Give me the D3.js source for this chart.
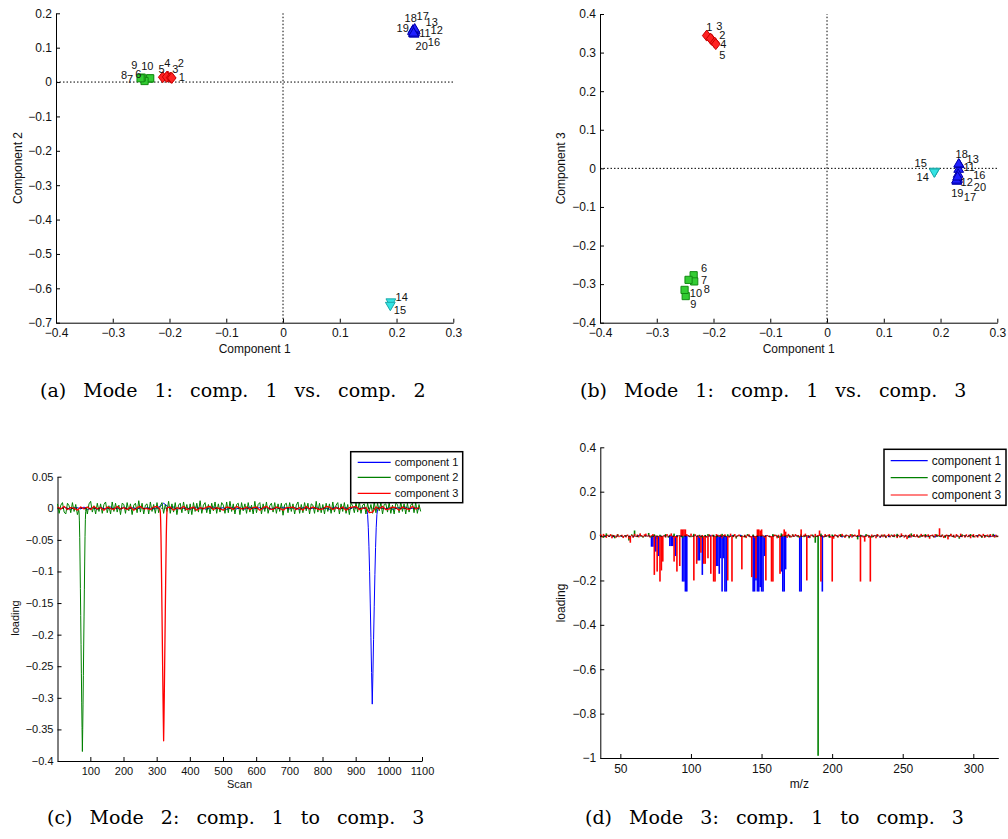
<!DOCTYPE html>
<html><head><meta charset="utf-8">
<script src="https://cdn.jsdelivr.net/npm/d3@7"></script>
<style>
body{margin:0;background:#fff}
svg{display:block}
text{font-family:"Liberation Sans",Arial,sans-serif;fill:#111}
.cap{font-family:"DejaVu Serif",serif;font-size:19px;word-spacing:11px;fill:#000}
</style>
</head><body>
<svg id="fig" width="1008" height="839"></svg>
<script>
// ---------------- DATA ----------------
// Mode 1 scores (samples 1..20)
const sampleIds = ["1","2","3","4","5","6","7","8","9","10","11","12","13","14","15","16","17","18","19","20"];
const sampleClass = ["A","A","A","A","A","B","B","B","B","B","C","C","C","D","D","C","C","C","C","C"];
const comp1 = [-0.212,-0.203,-0.205,-0.198,-0.196,-0.235,-0.234,-0.244,-0.249,-0.251,0.232,0.230,0.233,0.190,0.189,0.231,0.229,0.232,0.228,0.230];
const comp2 = [0.014,0.016,0.015,0.013,0.012,0.010,0.011,0.003,0.013,0.011,0.145,0.142,0.150,-0.640,-0.650,0.140,0.152,0.155,0.148,0.143];
const comp3 = [0.344,0.333,0.336,0.326,0.322,-0.277,-0.293,-0.289,-0.331,-0.315,-0.002,-0.028,0.010,-0.008,-0.010,-0.015,-0.033,0.012,-0.030,-0.022];
// sample-number annotation anchors (data units) in panels (a) and (b)
const labelA_x = [-0.1785,-0.180,-0.190,-0.204,-0.214,-0.255,-0.2696,-0.2802,-0.262,-0.2391,0.2501,0.2707,0.2619,0.209,0.206,0.2659,0.2461,0.2249,0.2108,0.2443];
const labelA_y = [0.0138,0.0563,0.0371,0.0563,0.0371,0.0226,0.008,0.0205,0.0496,0.0467,0.1418,0.1514,0.1756,-0.6243,-0.663,0.1165,0.1922,0.1855,0.1581,0.1058];
const labelB_x = [-0.2074,-0.1846,-0.190,-0.1828,-0.1846,-0.2168,-0.2168,-0.212,-0.2356,-0.2309,0.2506,0.2461,0.2566,0.1685,0.165,0.2683,0.2519,0.2372,0.2295,0.2695];
const labelB_y = [0.367,0.3456,0.3694,0.3215,0.2935,-0.2575,-0.2895,-0.3118,-0.3515,-0.322,0.0043,-0.0346,0.0243,-0.0216,0.0131,-0.0172,-0.0734,0.0372,-0.0631,-0.0475];

const scoreXTicks = [-0.4,-0.3,-0.2,-0.1,0,0.1,0.2,0.3];
const scoreYTicksA = [0.2,0.1,0,-0.1,-0.2,-0.3,-0.4,-0.5,-0.6,-0.7];
const scoreYTicksB = [0.4,0.3,0.2,0.1,0,-0.1,-0.2,-0.3,-0.4];

// Mode 2 loadings (scan); noise sampled every few scans, peaks at full resolution
const scanDomain = [1,1100];
const scanTicks = [100,200,300,400,500,600,700,800,900,1000,1100];
const loadTicksC = [0.05,0,-0.05,-0.1,-0.15,-0.2,-0.25,-0.3,-0.35,-0.4];
const scanNoiseStart = 1;
const greenNoiseStep = 5;
const green2Noise = [
.007,-.008,.005,.009,-.006,-.009,.008,.004,-.007,.009,-.005,.006,-.010,.008,-.004,.009,-.008,.005,-.009,.007,
.011,-.006,.004,-.009,.008,-.005,.007,-.008,.006,.010,-.007,.004,-.009,.010,-.005,.008,-.006,.005,-.010,.008,
.006,-.008,.009,-.004,.007,-.010,.005,.008,-.007,.012,-.006,.008,-.009,.005,.007,-.009,.010,-.005,.006,-.008,
.009,-.007,.004,.009,-.008,.006,-.005,.011,-.008,.007,-.006,.009,-.010,.005,.008,-.007,.010,-.004,.006,-.009,
.007,-.010,.009,-.005,.008,-.006,.012,-.008,.005,.009,-.007,.006,-.009,.008,-.004,.010,-.008,.007,-.006,.009,
.005,-.008,.010,-.007,.011,-.005,.007,-.009,.006,.008,-.010,.009,-.004,.007,-.008,.009,-.006,.005,-.009,.011,
-.007,.006,.009,-.009,.007,-.005,.010,-.008,.004,.008,-.006,.009,-.008,.007,-.005,.008,-.011,.006,.008,-.007,
.009,-.005,.007,-.009,.005,.010,-.008,.006,-.007,.009,-.004,.008,-.009,.007,.005,-.008,.011,-.006,.008,-.007,
.006,-.009,.008,-.005,.007,-.008,.010,-.006,.005,.009,-.009,.007,-.005,.009,-.008,.006,-.010,.008,.004,-.007,
.009,-.006,.011,-.008,.005,.007,-.009,.008,-.005,.006,-.008,.010,-.007,.008,-.004,.009,-.009,.006,.007,-.006,
.009,-.008,.005,-.009,.008,.006,-.007,.010,-.005,.007,-.009,.008,-.006,.005,.008,-.007,.009,-.008,.006,-.005];
const otherNoiseStep = 10;
const red3Noise = [
.002,-.001,.003,-.002,.001,.000,-.003,.002,-.001,.002,
-.002,.003,-.001,.001,-.003,.002,.000,-.002,.003,-.001,
.001,-.002,.002,-.003,.001,.003,-.001,.000,-.002,.002,
.003,-.001,-.002,.001,.002,-.003,.001,-.001,.003,-.002,
.000,.002,-.003,.001,-.001,.002,.003,-.002,.001,-.001,
-.003,.002,.001,-.002,.003,.000,-.001,.002,-.002,.001,
.002,-.003,.001,.003,-.001,-.002,.002,.000,-.003,.001,
.001,.002,-.002,.001,-.003,.003,-.001,.002,.000,-.002,
-.001,.003,.002,-.002,.001,-.001,.002,-.003,.001,.002,
.003,-.002,.000,.001,-.007,-.006,.002,-.001,.003,-.002,
-.001,.002,.001,-.003,.002,.000,-.002,.003,-.001,.001];
const blue1Noise = [
.001,-.001,.002,.000,-.002,.001,.001,-.001,.002,-.002,
.000,.001,-.002,.002,-.001,.000,.002,-.001,.001,-.002,
.002,-.001,.000,.001,-.002,.002,-.001,.001,.000,-.001,
.001,.003,.008,.004,-.001,.002,-.002,.001,.000,.001,
-.002,.001,.002,-.001,.000,-.002,.001,.002,-.001,.000,
.001,-.002,.000,.002,-.001,.001,-.002,.000,.002,-.001,
.000,.001,-.001,.002,-.002,.000,.001,-.001,.002,.000,
-.001,.002,.000,-.002,.001,.001,-.001,.000,.002,-.002,
.001,.000,-.002,.001,.002,-.001,.000,.001,-.002,.001,
.002,-.001,.001,.000,-.002,.001,-.001,.002,.000,-.001,
.001,-.002,.000,.001,-.001,.002,-.001,.000,.001,-.002];
const green2Peak = [[65,-.003],[66,-.006],[67,-.02],[68,-.046],[69,-.085],[70,-.127],[71,-.17],[72,-.216],[73,-.262],[74,-.308],[75,-.347],[76,-.385],[77,-.35],[78,-.31],[79,-.265],[80,-.218],[81,-.172],[82,-.128],[83,-.085],[84,-.045],[85,-.018],[86,-.005],[87,.002]];
const red3Peak = [[310,-.002],[311,-.006],[312,-.019],[313,-.044],[314,-.08],[315,-.12],[316,-.163],[317,-.206],[318,-.25],[319,-.293],[320,-.332],[321,-.368],[322,-.334],[323,-.295],[324,-.252],[325,-.208],[326,-.165],[327,-.122],[328,-.081],[329,-.044],[330,-.018],[331,-.005],[332,.001]];
const blue1Peak = [[934,-.002],[936,-.01],[938,-.03],[940,-.06],[942,-.1],[944,-.15],[946,-.205],[948,-.26],[950,-.31],[952,-.262],[954,-.208],[956,-.155],[958,-.105],[960,-.062],[962,-.03],[964,-.01],[966,-.002]];

// Mode 3 loadings (m/z)
const mzDomain = [35.8,317.7];
const mzTicks = [50,100,150,200,250,300];
const loadTicksD = [0.4,0.2,0,-0.2,-0.4,-0.6,-0.8,-1];
const mzStart = 36;
const red3MzNoise = [
.008,-.006,.010,.004,-.008,.006,-.004,.009,-.010,.005,.003,-.007,.008,-.005,.002,.006,-.009,.004,-.006,.007,
-.012,-.030,.005,-.008,.010,-.004,.007,-.006,.012,.004,-.005,.008,.011,-.003,.006,-.007,.004,.009,-.005,.003,
.006,-.004,.008,-.006,.010,.005,-.007,.009,-.003,.006,.012,-.005,.004,-.008,.007,.003,-.006,.010,-.004,.005,
-.007,.009,.004,-.005,.011,-.003,.006,.008,-.006,.004,-.009,.007,.005,-.004,.010,-.006,.003,.008,-.005,.006,
.004,-.008,.009,.006,-.004,.007,-.010,.005,.008,-.003,.006,-.007,.011,.004,-.005,.009,-.006,.003,.007,-.004,
.010,-.005,.006,-.009,.004,.008,-.006,.007,.003,-.008,.009,-.004,.005,.012,-.006,.004,-.007,.008,.005,-.003,
-.006,.009,-.004,.007,.005,-.010,.006,.004,-.005,.008,-.003,.006,-.008,.010,.004,-.006,.007,-.004,.009,.003,
.005,-.007,.008,-.004,.006,.011,-.005,.004,-.009,.007,.003,-.006,.010,-.004,.005,.008,-.007,.004,-.005,.009,
-.004,.006,.009,-.007,.004,-.012,.008,.005,-.006,.007,-.004,.010,.003,-.008,.006,.004,-.005,.009,-.007,.005,
.007,-.004,.005,-.009,.008,.004,-.006,.011,-.003,.006,-.008,.005,.007,-.005,.004,-.010,.009,.003,-.006,.007,
-.005,.008,-.007,.004,.010,-.006,.005,-.004,.008,.003,-.009,.006,-.005,.012,.004,-.007,.006,-.014,.005,.008,
-.006,.004,.009,-.005,.007,-.008,.003,.010,-.004,.006,-.007,.005,.008,-.012,.004,.007,-.006,.009,-.003,.005,
.008,-.005,.006,-.009,.004,.007,-.015,.005,.010,-.004,.006,-.008,.009,.003,-.006,.011,-.005,.004,-.007,.008,
-.004,.006,-.010,.005,.009,-.006,.004,-.007,.008,.006,-.005,.010,-.008,.004,.007,-.006,.009,-.004,.005,-.007,
.006,-.005,.008];
const green2MzNoise = [
.005,-.008,.012,-.004,.006,-.010,.009,.003,-.006,.004,-.020,.008,.025,-.005,.010,-.007,.004,.014,-.006,.008,
-.012,.006,-.004,.009,-.007,.005,.011,-.006,.004,-.009,.007,.003,-.005,.010,-.004,.006,-.008,.005,.009,-.003,
.006,-.007,.004,.010,-.005,.008,-.004,.006,-.011,.005,.003,-.006,.009,-.004,.007,-.014,.005,.008,-.006,.004,
-.005,.009,.006,-.008,.012,-.004,.005,-.007,.008,.003,-.006,.010,-.005,.004,-.009,.007,.005,-.004,.011,-.006,
.004,-.008,.007,.005,-.006,.009,-.003,.006,-.010,.008,.004,-.015,.006,-.005,.009,.003,-.007,.005,.008,-.004,
.006,-.009,.004,.007,-.005,.010,-.006,.005,.003,-.008,.012,-.004,.006,-.007,.005,.009,-.005,.004,-.006,.008,
-.004,.007,-.008,.005,.010,-.006,.004,-.012,.008,.003,-.005,.009,-.006,.004,.007,-.008,.005,-.004,.006,.010,
-.005,.004];
const blue1MzNoise = [
.003,-.004,.002,-.005,.004,-.002,.003,-.006,.001,.004,-.003,.002,-.004,.005,-.002,.003,-.005,.002,.004,-.003,
.002,-.004,.005,-.002,.003,-.006,.004,-.001,.003,-.005,.002,.004,-.003,.006,-.002,.003,-.004,.002,-.005,.004,
-.002,.003,-.006,.004,.002,-.003,.005,-.004,.002,-.008,.003,-.004,.006,-.002,.004,-.003,.002,-.006,.005,-.002,
.003,-.004,.002,.005,-.003,.004,-.008,.002,-.005,.003,.006,-.002,.004,-.007,.003,-.004,.005,-.002,.003,-.006,
.004,-.002,.005,-.003,.002,-.004,.003,.005,-.002,.004,-.003,.002,-.005,.006,-.004];
const blue1MzPeaks = [[72,-.048],[73,-.048],[75,-.07],[77,-.09],[85,-.045],[86,-.045],[87,-.045],[89,-.09],[94,-.205],[95,-.205],[96,-.25],[97,-.25],[105,-.11],[106,-.11],[108,-.175],[118,-.135],[119,-.135],[120,-.17],[121,-.1],[122,-.25],[123,-.1],[124,-.25],[125,-.25],[144,-.25],[145,-.25],[146,-.2],[147,-.25],[148,-.25],[149,-.23],[150,-.25],[151,-.25],[152,-.09],[164,-.16],[165,-.25],[166,-.25],[167,-.15],[177,-.25],[178,-.25],[193,-.25]];
const green2MzPeaks = [[188,-.03],[190,-.99]];
const red3MzPeaks = [[74,-.175],[76,-.16],[78,-.205],[79,-.155],[80,-.115],[88,-.115],[90,-.16],[92,-.135],[93,.03],[94,.03],[95,.03],[96,.03],[102,-.2],[104,-.125],[107,-.075],[109,-.125],[110,-.125],[112,-.1],[114,-.17],[116,-.205],[117,-.205],[126,-.2],[129,-.205],[136,-.15],[143,-.185],[146,-.19],[147,.03],[148,.03],[149,.025],[150,.03],[153,-.2],[157,-.205],[158,-.205],[163,-.17],[166,.03],[167,.02],[178,.03],[182,-.2],[191,.025],[192,-.205],[200,-.205],[219,.03],[220,-.205],[223,-.025],[227,-.205],[276,.035]];

const legendNames = ["component 1","component 2","component 3"];
const captions = ["(a) Mode 1: comp. 1 vs. comp. 2","(b) Mode 1: comp. 1 vs. comp. 3","(c) Mode 2: comp. 1 to comp. 3","(d) Mode 3: comp. 1 to comp. 3"];

// ---------------- DRAWING ----------------
const svg = d3.select("#fig");
const lineColors = ["#0000ff","#008000","#ff0000"];
const fmt = v => (v < 0 ? "\u2212" : "") + String(+Math.abs(v).toFixed(2));

function styleAxis(g, fs) {
  g.select(".domain").attr("stroke","#000").attr("stroke-width",1);
  g.selectAll(".tick line").attr("stroke","#000");
  g.selectAll(".tick text").attr("font-size",fs).attr("fill","#111").attr("font-family","Liberation Sans, Arial, sans-serif");
}

function axes(x, y, xTicks, yTicks, fs, yTrans, xTrans) {
  const gx = svg.append("g").attr("transform",`translate(0,${yTrans})`)
    .call(d3.axisBottom(x).tickValues(xTicks).tickFormat(fmt).tickSizeInner(-4).tickSizeOuter(0).tickPadding(6));
  styleAxis(gx, fs);
  const gy = svg.append("g").attr("transform",`translate(${xTrans},0)`)
    .call(d3.axisLeft(y).tickValues(yTicks).tickFormat(fmt).tickSizeInner(-4).tickSizeOuter(0).tickPadding(4));
  styleAxis(gy, fs);
}

const markerPath = {
  A: "M0,-5.5L4.3,0L0,5.5L-4.3,0Z",
  B: "M-3.6,-3.6H3.6V3.6H-3.6Z",
  C: "M0,-5.2L4.9,3.2L-4.9,3.2Z",
  D: "M0,5.2L4.9,-3.2L-4.9,-3.2Z"
};
const markerFill = {A:"#ff2222",B:"#33cc33",C:"#1f1fff",D:"#33e3e3"};
const markerStroke = {A:"#c40000",B:"#138a13",C:"#0000a8",D:"#1aa8a8"};

function scores(P, yVals, yTicks, labX, labY, yLabel, yLabX) {
  const x = d3.scaleLinear().domain([scoreXTicks[0], scoreXTicks[scoreXTicks.length-1]]).range([P.x0,P.x1]);
  const y = d3.scaleLinear().domain([yTicks[yTicks.length-1], yTicks[0]]).range([P.y1,P.y0]);
  svg.append("line").attr("x1",P.x0).attr("x2",P.x1).attr("y1",y(0)).attr("y2",y(0))
    .attr("stroke","#000").attr("stroke-width",1).attr("stroke-dasharray","1.5,2");
  svg.append("line").attr("x1",x(0)).attr("x2",x(0)).attr("y1",P.y1).attr("y2",P.y0)
    .attr("stroke","#000").attr("stroke-width",1).attr("stroke-dasharray","1.5,2");
  axes(x, y, scoreXTicks, yTicks, 12, P.y1, P.x0);
  svg.append("g").selectAll("path").data(sampleIds).join("path")
    .attr("d",(d,i)=>markerPath[sampleClass[i]])
    .attr("transform",(d,i)=>`translate(${x(comp1[i])},${y(yVals[i])})`)
    .attr("fill",(d,i)=>markerFill[sampleClass[i]])
    .attr("stroke",(d,i)=>markerStroke[sampleClass[i]]).attr("stroke-width",1);
  svg.append("g").selectAll("text").data(sampleIds).join("text")
    .attr("x",(d,i)=>x(labX[i])).attr("y",(d,i)=>y(labY[i]))
    .attr("text-anchor","middle").attr("dominant-baseline","central")
    .attr("font-size",11).text(d=>d);
  svg.append("text").attr("x",(P.x0+P.x1)/2).attr("y",P.y1+30).attr("text-anchor","middle")
    .attr("font-size",12).text("Component 1");
  svg.append("text").attr("transform",`translate(${yLabX},${(P.y0+P.y1)/2}) rotate(-90)`)
    .attr("text-anchor","middle").attr("font-size",12).text(yLabel);
}

scores({x0:56,x1:453.3,y0:13.3,y1:322.7}, comp2, scoreYTicksA, labelA_x, labelA_y, "Component 2", 22);
scores({x0:600,x1:997.3,y0:14,y1:322.7}, comp3, scoreYTicksB, labelB_x, labelB_y, "Component 3", 565);

function legend(bx,by,bw,bh,rows,lx0,lx1,tx,fs){
  const g = svg.append("g");
  g.append("rect").attr("x",bx).attr("y",by).attr("width",bw).attr("height",bh)
    .attr("fill","#fff").attr("stroke","#000").attr("stroke-width",1.5);
  legendNames.forEach((n,k)=>{
    g.append("line").attr("x1",lx0).attr("x2",lx1).attr("y1",rows[k]).attr("y2",rows[k])
      .attr("stroke",lineColors[k]).attr("stroke-width",1.2);
    g.append("text").attr("x",tx).attr("y",rows[k]).attr("dominant-baseline","central")
      .attr("font-size",fs).text(n);
  });
}

// ---- panel (c)
(function(){
  const x = d3.scaleLinear().domain(scanDomain).range([57.5,422]);
  const y = d3.scaleLinear().domain([loadTicksC[loadTicksC.length-1], loadTicksC[0]]).range([761,476.7]);
  function merge(noise, step, peak) {
    const lo = peak[0][0], hi = peak[peak.length-1][0];
    return noise.map((v,i)=>[scanNoiseStart+i*step, v])
      .filter(p=>p[0]<lo||p[0]>hi).concat(peak).sort((a,b)=>a[0]-b[0]);
  }
  const series = [merge(blue1Noise, otherNoiseStep, blue1Peak),
                  merge(green2Noise, greenNoiseStep, green2Peak),
                  merge(red3Noise, otherNoiseStep, red3Peak)];
  axes(x, y, scanTicks, loadTicksC, 11, 761, 57.5);
  const line = d3.line().x(d=>x(d[0])).y(d=>y(d[1]));
  series.forEach((s,k)=>{
    svg.append("path").datum(s).attr("d",line).attr("fill","none")
      .attr("stroke",lineColors[k]).attr("stroke-width",k===2?1.3:1).attr("stroke-linejoin","round");
  });
  svg.append("line").attr("x1",57.5).attr("x2",422).attr("y1",y(0)).attr("y2",y(0))
    .attr("stroke","#000").attr("stroke-width",1).attr("stroke-dasharray","2,2.5").attr("opacity",0.6);
  svg.append("text").attr("x",239.5).attr("y",788).attr("text-anchor","middle").attr("font-size",11).text("Scan");
  svg.append("text").attr("transform",`translate(19,618) rotate(-90)`).attr("text-anchor","middle")
    .attr("font-size",11).text("loading");
  legend(350.7,451.7,112,51,[462.3,477.3,493.3],357.7,390.7,394.7,11);
})();

// ---- panel (d)
(function(){
  const x = d3.scaleLinear().domain(mzDomain).range([600.3,998.3]);
  const y = d3.scaleLinear().domain([loadTicksD[loadTicksD.length-1], loadTicksD[0]]).range([758,447.3]);
  function bars(noise, step, peaks) {
    const m = new Map();
    noise.forEach((v,i)=>m.set(mzStart+i*step, v));
    peaks.forEach(([k,v])=>m.set(k,v));
    return Array.from(m, ([k,v])=>({mz:k,v:v})).filter(d=>d.mz>=mzDomain[0]&&d.mz<=mzDomain[1]);
  }
  const series = [bars(blue1MzNoise,3,blue1MzPeaks), bars(green2MzNoise,2,green2MzPeaks), bars(red3MzNoise,1,red3MzPeaks)];
  axes(x, y, mzTicks, loadTicksD, 12, 758, 600.3);
  series.forEach((s,k)=>{
    svg.append("g").selectAll("rect").data(s).join("rect")
      .attr("x",d=>x(d.mz-0.5)).attr("width",d=>Math.max(1.6,x(d.mz+0.5)-x(d.mz-0.5)))
      .attr("y",d=>Math.min(y(d.v),y(0))).attr("height",d=>Math.max(0.6,Math.abs(y(d.v)-y(0))))
      .attr("fill",lineColors[k]);
  });
  svg.append("line").attr("x1",600.3).attr("x2",998.3).attr("y1",y(0)).attr("y2",y(0))
    .attr("stroke","#000").attr("stroke-width",1.2).attr("stroke-dasharray","2,2").attr("opacity",0.75);
  svg.append("text").attr("x",799.3).attr("y",788).attr("text-anchor","middle").attr("font-size",12).text("m/z");
  svg.append("text").attr("transform",`translate(565,603) rotate(-90)`).attr("text-anchor","middle")
    .attr("font-size",12).text("loading");
  legend(884,449.3,122,56,[460.7,477.7,495],890.7,927.7,931.7,12);
})();

// captions
const capPos = [[40,397],[580,397],[47,824],[585,824]];
captions.forEach((c,i)=>{
  svg.append("text").attr("class","cap").attr("x",capPos[i][0]).attr("y",capPos[i][1]).text(c);
});
</script>
</body></html>
